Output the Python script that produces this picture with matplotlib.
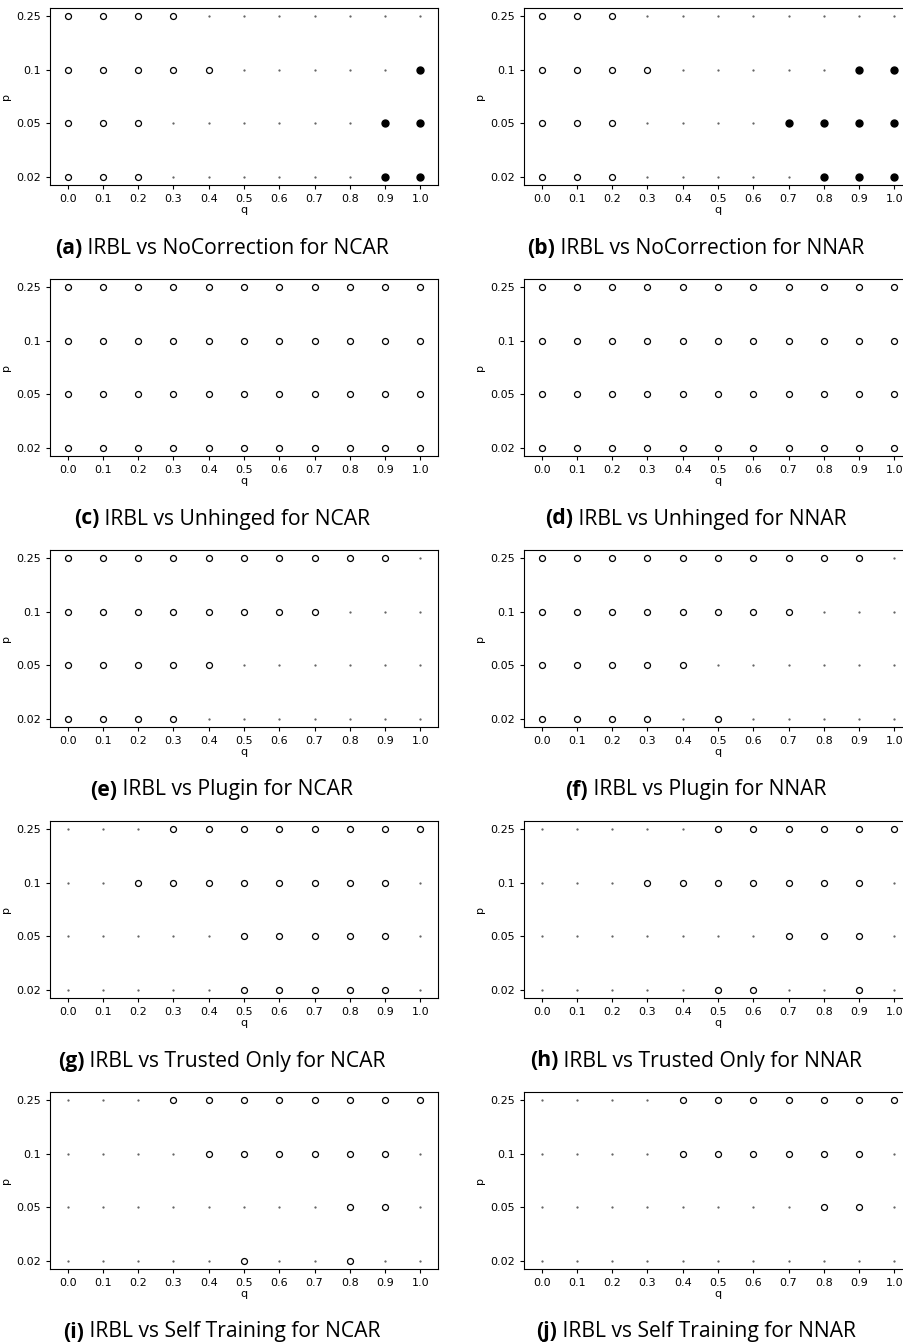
import numpy as np
import matplotlib
matplotlib.use("Agg")
import matplotlib.pyplot as plt

# q values (x axis) and p values (y axis, drawn as categories)
q_values = [0.0, 0.1, 0.2, 0.3, 0.4, 0.5, 0.6, 0.7, 0.8, 0.9, 1.0]
p_labels = ["0.02", "0.05", "0.1", "0.25"]

# outcome per (p, q): 1 = IRBL wins, 0 = tie, -1 = IRBL loses
# rows go p = 0.02, 0.05, 0.1, 0.25
nocorr_ncar = [
    [1, 1, 1, 0, 0, 0, 0, 0, 0, -1, -1],
    [1, 1, 1, 0, 0, 0, 0, 0, 0, -1, -1],
    [1, 1, 1, 1, 1, 0, 0, 0, 0, 0, -1],
    [1, 1, 1, 1, 0, 0, 0, 0, 0, 0, 0],
]
nocorr_nnar = [
    [1, 1, 1, 0, 0, 0, 0, 0, -1, -1, -1],
    [1, 1, 1, 0, 0, 0, 0, -1, -1, -1, -1],
    [1, 1, 1, 1, 0, 0, 0, 0, 0, -1, -1],
    [1, 1, 1, 0, 0, 0, 0, 0, 0, 0, 0],
]
unhinged_ncar = [[1] * 11 for _ in range(4)]
unhinged_nnar = [[1] * 11 for _ in range(4)]
plugin_ncar = [
    [1, 1, 1, 1, 0, 0, 0, 0, 0, 0, 0],
    [1, 1, 1, 1, 1, 0, 0, 0, 0, 0, 0],
    [1, 1, 1, 1, 1, 1, 1, 1, 0, 0, 0],
    [1, 1, 1, 1, 1, 1, 1, 1, 1, 1, 0],
]
plugin_nnar = [
    [1, 1, 1, 1, 0, 1, 0, 0, 0, 0, 0],
    [1, 1, 1, 1, 1, 0, 0, 0, 0, 0, 0],
    [1, 1, 1, 1, 1, 1, 1, 1, 0, 0, 0],
    [1, 1, 1, 1, 1, 1, 1, 1, 1, 1, 0],
]
trusted_ncar = [
    [0, 0, 0, 0, 0, 1, 1, 1, 1, 1, 0],
    [0, 0, 0, 0, 0, 1, 1, 1, 1, 1, 0],
    [0, 0, 1, 1, 1, 1, 1, 1, 1, 1, 0],
    [0, 0, 0, 1, 1, 1, 1, 1, 1, 1, 1],
]
trusted_nnar = [
    [0, 0, 0, 0, 0, 1, 1, 0, 0, 1, 0],
    [0, 0, 0, 0, 0, 0, 0, 1, 1, 1, 0],
    [0, 0, 0, 1, 1, 1, 1, 1, 1, 1, 0],
    [0, 0, 0, 0, 0, 1, 1, 1, 1, 1, 1],
]
selftrain_ncar = [
    [0, 0, 0, 0, 0, 1, 0, 0, 1, 0, 0],
    [0, 0, 0, 0, 0, 0, 0, 0, 1, 1, 0],
    [0, 0, 0, 0, 1, 1, 1, 1, 1, 1, 0],
    [0, 0, 0, 1, 1, 1, 1, 1, 1, 1, 1],
]
selftrain_nnar = [
    [0, 0, 0, 0, 0, 0, 0, 0, 0, 0, 0],
    [0, 0, 0, 0, 0, 0, 0, 0, 1, 1, 0],
    [0, 0, 0, 0, 1, 1, 1, 1, 1, 1, 0],
    [0, 0, 0, 0, 1, 1, 1, 1, 1, 1, 1],
]

panels = [
    ("(a)", "IRBL vs NoCorrection for NCAR", nocorr_ncar),
    ("(b)", "IRBL vs NoCorrection for NNAR", nocorr_nnar),
    ("(c)", "IRBL vs Unhinged for NCAR", unhinged_ncar),
    ("(d)", "IRBL vs Unhinged for NNAR", unhinged_nnar),
    ("(e)", "IRBL vs Plugin for NCAR", plugin_ncar),
    ("(f)", "IRBL vs Plugin for NNAR", plugin_nnar),
    ("(g)", "IRBL vs Trusted Only for NCAR", trusted_ncar),
    ("(h)", "IRBL vs Trusted Only for NNAR", trusted_nnar),
    ("(i)", "IRBL vs Self Training for NCAR", selftrain_ncar),
    ("(j)", "IRBL vs Self Training for NNAR", selftrain_nnar),
]

W, H = 904, 1344
fig = plt.figure(figsize=(W / 100, H / 100), dpi=100)
renderer = fig.canvas.get_renderer()

col_left = [50, 524]
col_caption = [222, 696]
row_top = [8, 279, 550, 821, 1092]
ax_w, ax_h = 388, 177


def draw_panel(ax, grid):
    grid = np.array(grid)
    qq = np.array(q_values)
    for i in range(len(p_labels)):
        row = grid[i]
        ax.plot(qq[row == 0], np.full((row == 0).sum(), i), ".",
                color="0.35", markersize=1.2, linestyle="none")
        ax.plot(qq[row == 1], np.full((row == 1).sum(), i), "o",
                markerfacecolor="white", markeredgecolor="black",
                markersize=4.3, markeredgewidth=0.9, linestyle="none")
        ax.plot(qq[row == -1], np.full((row == -1).sum(), i), "o",
                color="black", markersize=5, linestyle="none")
    ax.set_xlim(-0.05, 1.05)
    ax.set_ylim(-0.15, 3.15)
    ax.set_xticks(q_values)
    ax.set_xticklabels([f"{q:.1f}" for q in q_values])
    ax.set_yticks(range(len(p_labels)))
    ax.set_yticklabels(p_labels)
    ax.tick_params(labelsize=8, length=3, width=0.8)
    ax.set_xlabel("q", fontsize=8, labelpad=1)
    ax.set_ylabel("p", fontsize=8)


for k, (tag, text, grid) in enumerate(panels):
    r, c = divmod(k, 2)
    x0 = col_left[c]
    y0 = row_top[r]
    ax = fig.add_axes([x0 / W, 1 - (y0 + ax_h) / H, ax_w / W, ax_h / H])
    draw_panel(ax, grid)

    # caption: bold tag followed by regular text, centred as one line
    cy = 1 - (y0 + 240) / H
    t1 = fig.text(0, cy, tag, fontsize=15.2, fontweight="bold",
                  family="Open Sans", va="center")
    t2 = fig.text(0, cy, " " + text, fontsize=15.2,
                  family="Open Sans", va="center")
    w1 = t1.get_window_extent(renderer).width
    w2 = t2.get_window_extent(renderer).width
    start = col_caption[c] - (w1 + w2) / 2
    t1.set_x(start / W)
    t2.set_x((start + w1) / W)

fig.savefig("out.png", dpi=100)
